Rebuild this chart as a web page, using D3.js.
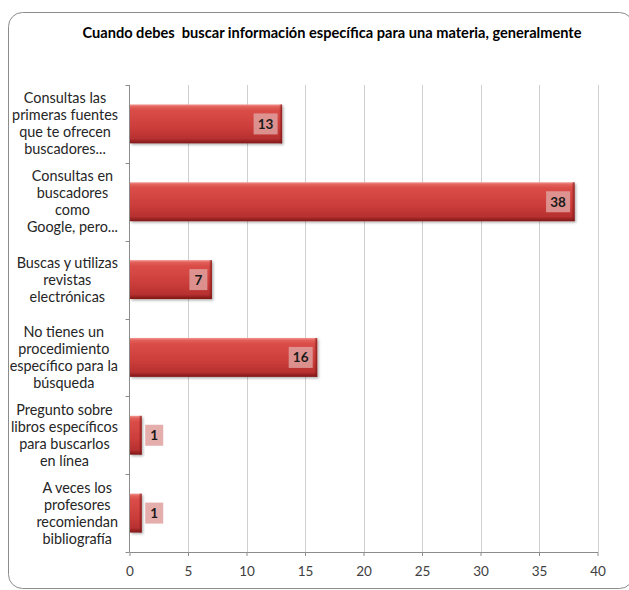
<!DOCTYPE html>
<html>
<head>
<meta charset="utf-8">
<script src="https://cdn.jsdelivr.net/npm/d3@7"></script>
<style>
  html, body { margin: 0; padding: 0; background: #ffffff; }
  svg { display: block; }
  text { font-family: Lato, "Open Sans", sans-serif; }
</style>
</head>
<body>
<svg id="chart" width="629" height="590"></svg>
<script>
// Survey answers, in the order they are listed on the chart
const categories = [
  "Consultas las primeras fuentes que te ofrecen buscadores...",
  "Consultas en buscadores como Google, pero...",
  "Buscas y utilizas revistas electrónicas",
  "No tienes un procedimiento específico para la búsqueda",
  "Pregunto sobre libros específicos para buscarlos en línea",
  "A veces los profesores recomiendan bibliografía"
];
// Wrapped lines of each category label
const categoryLines = [
  ["Consultas las", "primeras fuentes", "que te ofrecen", "buscadores..."],
  ["Consultas en", "buscadores", "como", "Google, pero..."],
  ["Buscas y utilizas", "revistas", "electrónicas"],
  ["No tienes un", "procedimiento", "específico para la", "búsqueda"],
  ["Pregunto sobre", "libros específicos", "para buscarlos", "en línea"],
  ["A veces los", "profesores", "recomiendan", "bibliografía"]
];
const values = [13, 38, 7, 16, 1, 1];
const xTicks = [0, 5, 10, 15, 20, 25, 30, 35, 40];
const title = "Cuando debes  buscar información específica para una materia, generalmente";

const svg = d3.select("#chart");
const plot = { left: 129.5, right: 597.5, top: 85, bottom: 552 };

// Outer chart frame
svg.append("rect")
  .attr("x", 8.5).attr("y", 12.5)
  .attr("width", 625).attr("height", 576)
  .attr("rx", 14).attr("ry", 14)
  .attr("fill", "#ffffff")
  .attr("stroke", "#8c8c8c").attr("stroke-width", 1);

// Title
svg.append("text")
  .attr("x", 332).attr("y", 37.5)
  .attr("text-anchor", "middle")
  .attr("font-size", 14.6)
  .attr("font-weight", "bold")
  .attr("fill", "#000")
  .style("white-space", "pre")
  .text(title);

const x = d3.scaleLinear().domain([0, 40]).range([plot.left, plot.right]);
const y = d3.scaleBand().domain(categories).range([plot.top, plot.bottom]).paddingInner(0.5).paddingOuter(0.25);

// Bar fill: red with light top edge and dark lower edge
const defs = svg.append("defs");
const grad = defs.append("linearGradient").attr("id", "barGrad")
  .attr("x1", 0).attr("y1", 0).attr("x2", 0).attr("y2", 1);
[[0, "#f29590"], [0.06, "#e2605a"], [0.15, "#da4d48"], [0.6, "#cb3d3a"], [0.88, "#b73030"], [1, "#7e1716"]]
  .forEach(([o, c]) => grad.append("stop").attr("offset", o).attr("stop-color", c));
const endGrad = defs.append("linearGradient").attr("id", "endGrad")
  .attr("x1", 0).attr("y1", 0).attr("x2", 1).attr("y2", 0);
endGrad.append("stop").attr("offset", 0).attr("stop-color", "#7e1716").attr("stop-opacity", 0);
endGrad.append("stop").attr("offset", 1).attr("stop-color", "#7e1716").attr("stop-opacity", 0.85);
const shadow = defs.append("filter").attr("id", "barShadow")
  .attr("x", "-10%").attr("y", "-20%").attr("width", "130%").attr("height", "160%");
shadow.append("feDropShadow").attr("dx", 1.5).attr("dy", 1.5).attr("stdDeviation", 1.2)
  .attr("flood-color", "#000").attr("flood-opacity", 0.3);

// Vertical gridlines
svg.append("g").selectAll("line")
  .data(xTicks.filter(t => t > 0))
  .join("line")
  .attr("x1", d => Math.round(x(d)) + 0.5).attr("x2", d => Math.round(x(d)) + 0.5)
  .attr("y1", plot.top).attr("y2", plot.bottom)
  .attr("stroke", "#d0d0d0").attr("stroke-width", 1);

// Bottom axis
const xAxis = svg.append("g")
  .attr("transform", `translate(0,${plot.bottom})`)
  .call(d3.axisBottom(x).tickValues(xTicks).tickSize(4).tickPadding(10).tickSizeOuter(0));
xAxis.select(".domain").attr("stroke", "#8c8c8c");
xAxis.selectAll(".tick line").attr("stroke", "#8c8c8c");
xAxis.selectAll(".tick text").attr("font-size", 13.5).attr("fill", "#404040")
  .attr("font-family", "Lato, sans-serif");

// Left axis with ticks at category boundaries
const bounds = d3.range(categories.length + 1).map(i => plot.top + i * (plot.bottom - plot.top) / categories.length);
svg.append("line")
  .attr("x1", plot.left).attr("x2", plot.left)
  .attr("y1", plot.top).attr("y2", plot.bottom)
  .attr("stroke", "#8c8c8c");
svg.append("g").selectAll("line").data(bounds).join("line")
  .attr("x1", plot.left - 4).attr("x2", plot.left)
  .attr("y1", d => Math.round(d) + 0.5).attr("y2", d => Math.round(d) + 0.5)
  .attr("stroke", "#8c8c8c");

// Bars
const bars = svg.append("g").selectAll("g").data(categories).join("g");
bars.append("rect")
  .attr("x", x(0) + 0.5)
  .attr("y", d => y(d))
  .attr("width", (d, i) => x(values[i]) - x(0))
  .attr("height", y.bandwidth())
  .attr("fill", "url(#barGrad)")
  .attr("filter", "url(#barShadow)");
bars.append("rect")
  .attr("x", (d, i) => x(values[i]) - Math.min(3, x(values[i]) - x(0)) + 0.5)
  .attr("y", d => y(d))
  .attr("width", (d, i) => Math.min(3, x(values[i]) - x(0)))
  .attr("height", y.bandwidth())
  .attr("fill", "url(#endGrad)");

// Value labels: inside the bar end, or just past it when the bar is short
const boxH = 21;
bars.each(function (d, i) {
  const g = d3.select(this);
  const v = values[i];
  const label = String(v);
  const boxW = label.length > 1 ? 24 : 18;
  const barEnd = x(v);
  const inside = (barEnd - x(0)) > boxW + 10;
  const bx = inside ? barEnd - 4 - boxW : barEnd + 4;
  const cy = y(d) + y.bandwidth() / 2;
  g.append("rect")
    .attr("x", bx).attr("y", cy - boxH / 2)
    .attr("width", boxW).attr("height", boxH)
    .attr("fill", "#dfa09e").attr("fill-opacity", 0.85);
  g.append("text")
    .attr("x", bx + boxW / 2).attr("y", cy + 5)
    .attr("text-anchor", "middle")
    .attr("font-size", 13.5).attr("font-weight", "bold")
    .attr("fill", "#1a1a1a")
    .text(label);
});

// Category labels: each block right-aligned to the axis, lines centred within it
const labelRight = 118;
const lineH = 17;
const labels = svg.append("g").attr("font-size", 14.4).attr("fill", "#262626");
categories.forEach((c, i) => {
  const lines = categoryLines[i];
  const cy = y(c) + y.bandwidth() / 2;
  const grp = labels.append("g");
  const texts = lines.map((ln, k) => grp.append("text")
    .attr("y", cy + (k - (lines.length - 1) / 2) * lineH + 5)
    .attr("text-anchor", "middle")
    .text(ln));
  const widest = d3.max(texts, t => t.node().getComputedTextLength());
  texts.forEach(t => t.attr("x", labelRight - widest / 2));
});
</script>
</body>
</html>
